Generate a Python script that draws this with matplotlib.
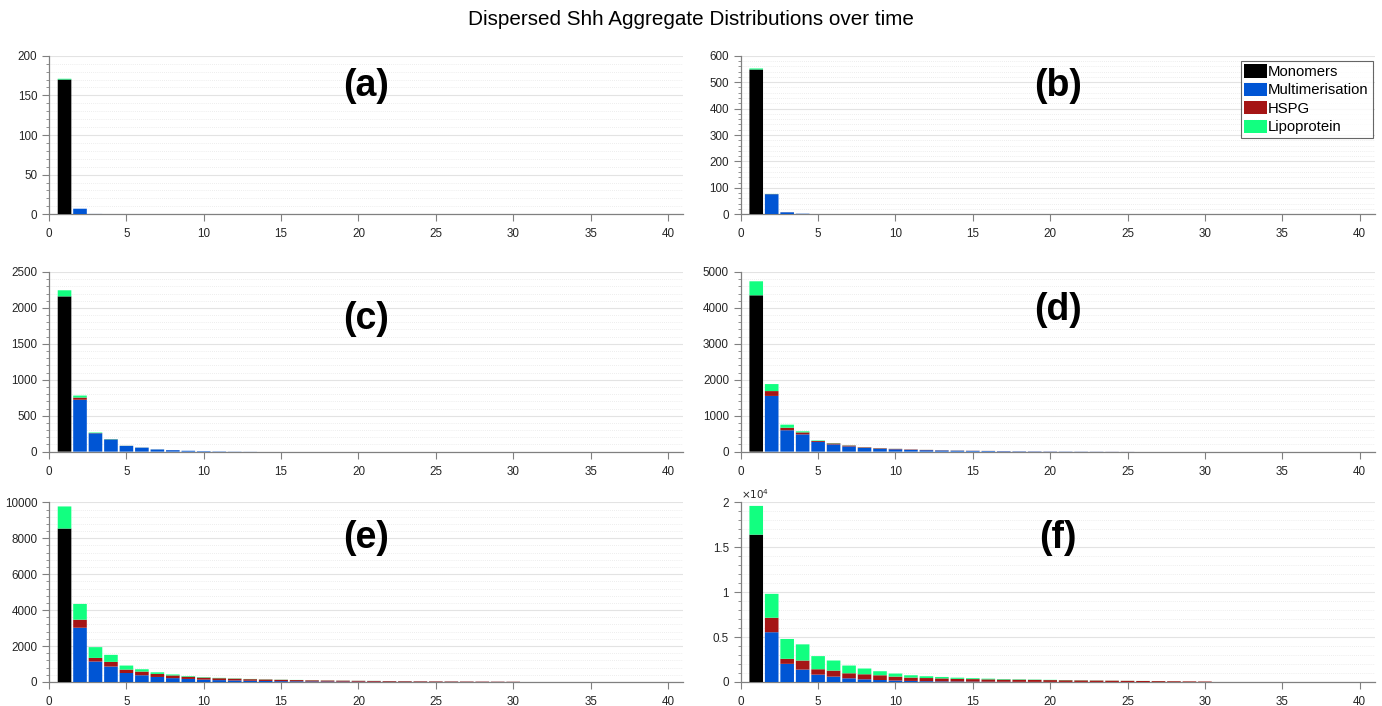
import numpy as np
import matplotlib
matplotlib.use('Agg')
import matplotlib.pyplot as plt
from matplotlib.ticker import AutoMinorLocator, MultipleLocator, FuncFormatter

plt.rcParams['font.family'] = ['Liberation Sans', 'DejaVu Sans']

# series names / colours
series = ['Monomers', 'Multimerisation', 'HSPG', 'Lipoprotein']
colours = ['#000000', '#0055d4', '#a51515', '#12ff80']
labels = ['(a)', '(b)', '(c)', '(d)', '(e)', '(f)']

# aggregate size 1 = monomers only
mono = [170, 548, 2160, 4350, 8540, 16400]

# multimerisation counts, aggregate size 1, 2, 3, ...
multi_a = [0, 7, 0.4]
multi_b = [0, 76, 7.5, 2, 0.5]
multi_c = [0, 722, 255, 170, 80, 55, 30, 20, 12, 7, 4, 2, 1]
multi_d = [0, 1550, 595, 480, 270, 200, 145, 105, 80, 65, 50, 40, 32, 26, 21,
           17, 13, 10, 8, 6, 5, 4, 3, 2, 1]
multi_e = [0, 3020, 1140, 860, 500, 375, 280, 215, 170, 130, 105, 85, 70, 58,
           48, 40, 33, 28, 23, 19, 16, 13, 11, 9, 7, 6, 5, 4, 3, 2]
multi_f = [0, 5540, 2020, 1380, 820, 600, 410, 300, 220, 160, 120, 90, 70, 55,
           42, 33, 26, 20, 15, 12, 10, 8, 6, 5, 4, 3, 2, 2, 1, 1]

# HSPG bound
hspg_a = [0, 0, 0]
hspg_b = [0, 0.5, 0.2, 0, 0]
hspg_c = [0, 30, 3, 2, 1, 1, 0.5, 0.5, 0, 0, 0, 0, 0]
hspg_d = [0, 135, 70, 55, 25, 30, 25, 15, 15, 12, 10, 8, 6, 5, 4,
          3, 3, 2, 2, 2, 1, 1, 1, 1, 0.5]
hspg_e = [0, 450, 200, 260, 190, 205, 170, 150, 125, 115, 105, 100, 88, 82,
          74, 68, 61, 56, 52, 47, 43, 39, 35, 31, 28, 25, 22, 19, 16, 13]
hspg_f = [0, 1610, 560, 1010, 600, 670, 560, 560, 530, 440, 370, 350, 330, 300,
          280, 260, 245, 235, 220, 200, 185, 170, 155, 140, 125, 110, 95, 80, 65, 50]

# lipoprotein bound
lipo_a = [1, 0, 0]
lipo_b = [4, 0.5, 0, 0, 0]
lipo_c = [85, 28, 8, 3, 1, 1, 0.5, 0, 0, 0, 0, 0, 0]
lipo_d = [390, 195, 85, 30, 15, 8, 5, 3, 3, 2, 1, 1, 1, 1, 0.5,
          0.5, 0, 0, 0, 0, 0, 0, 0, 0, 0]
lipo_e = [1230, 875, 600, 390, 225, 130, 90, 55, 35, 25, 20, 15, 12, 10,
          8, 7, 6, 5, 5, 4, 4, 3, 3, 2, 2, 2, 1, 1, 1, 1]
lipo_f = [3200, 2660, 2210, 1800, 1460, 1120, 860, 640, 450, 340, 260, 200, 160, 125,
          98, 77, 59, 45, 35, 28, 22, 18, 14, 11, 9, 7, 5, 4, 3, 2]

multi = [multi_a, multi_b, multi_c, multi_d, multi_e, multi_f]
hspg = [hspg_a, hspg_b, hspg_c, hspg_d, hspg_e, hspg_f]
lipo = [lipo_a, lipo_b, lipo_c, lipo_d, lipo_e, lipo_f]
ymax = [200, 600, 2500, 5000, 10000, 20000]
ystep = [50, 100, 500, 1000, 2000, 5000]
label_y = [0.81, 0.81, 0.74, 0.79, 0.80, 0.80]

fig = plt.figure(figsize=(13.82, 7.06), dpi=100)

# axes boxes [left, bottom, width, height] in figure fraction
col_x = [0.0355, 0.536]
row_b = [0.6965, 0.3603, 0.034]
row_h = [0.2245, 0.2545, 0.2545]

for i in range(6):
    r, c = i // 2, i % 2
    ax = fig.add_axes([col_x[c], row_b[r], 0.459, row_h[r]])
    m = np.array(multi[i], dtype=float)
    h = np.array(hspg[i], dtype=float)
    lp = np.array(lipo[i], dtype=float)
    x = np.arange(1, len(m) + 1)
    mo = np.zeros(len(m))
    mo[0] = mono[i]

    w = 0.88
    ax.bar(x, mo, w, color=colours[0], label=series[0], zorder=3, snap=False)
    ax.bar(x, m, w, bottom=mo, color=colours[1], label=series[1], zorder=3, snap=False)
    ax.bar(x, h, w, bottom=mo + m, color=colours[2], label=series[2], zorder=3, snap=False)
    ax.bar(x, lp, w, bottom=mo + m + h, color=colours[3], label=series[3], zorder=3,
           snap=False)

    ax.set_xlim(0, 41)
    ax.set_ylim(0, ymax[i])
    ax.xaxis.set_major_locator(MultipleLocator(5))
    ax.yaxis.set_major_locator(MultipleLocator(ystep[i]))
    ax.yaxis.set_minor_locator(AutoMinorLocator(5))
    if i == 5:
        ax.yaxis.set_major_formatter(FuncFormatter(lambda v, p: '%g' % (v / 1e4)))
        ax.text(0.0, 1.01, r'$\times10^{4}$', transform=ax.transAxes,
                fontsize=7.5, color='#262626', ha='left', va='bottom')

    ax.grid(axis='y', which='major', color='#e3e3e3', linewidth=0.8, zorder=0)
    ax.grid(axis='y', which='minor', color='#e8e8e8', linewidth=0.6,
            linestyle=(0, (1, 1.5)), zorder=0)
    ax.set_axisbelow(True)

    for s in ['top', 'right']:
        ax.spines[s].set_visible(False)
    for s in ['left', 'bottom']:
        ax.spines[s].set_color('#808080')
        ax.spines[s].set_linewidth(0.9)
    ax.tick_params(which='major', direction='out', length=5, width=0.8,
                   color='#808080', labelsize=8.4, labelcolor='#262626')
    ax.tick_params(axis='x', which='major', pad=5)
    ax.tick_params(which='minor', direction='out', length=2.5, width=0.6,
                   color='#808080')
    ax.tick_params(axis='x', which='minor', length=0)

    ax.text(0.5, label_y[i], labels[i], transform=ax.transAxes, fontsize=27,
            fontweight='bold', ha='center', va='center')

    if i == 1:
        leg = ax.legend(loc='upper right', bbox_to_anchor=(0.996, 0.97), fontsize=10.7,
                        frameon=True, fancybox=False, handlelength=1.5,
                        handleheight=1.0, handletextpad=0.1, labelspacing=0.25,
                        borderpad=0.25, borderaxespad=0.0)
        leg.get_frame().set_edgecolor('#404040')
        leg.get_frame().set_linewidth(0.8)

fig.suptitle('Dispersed Shh Aggregate Distributions over time', fontsize=14.9,
             y=0.972, va='center')

plt.savefig('out.png', dpi=100)
